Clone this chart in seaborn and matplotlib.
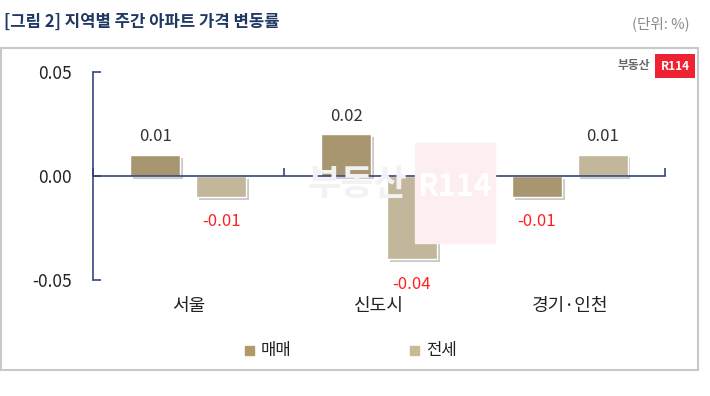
import pandas as pd
import matplotlib.pyplot as plt
import matplotlib.patheffects as pe
from matplotlib.patches import Rectangle
import seaborn as sns

regions = ["서울", "신도시", "경기·인천"]
sale = [0.01, 0.02, -0.01]
jeonse = [-0.01, -0.04, 0.01]
series_names = ["매매", "전세"]
yticks = [-0.05, 0.00, 0.05]

df = pd.DataFrame({
    "지역": regions * 2,
    "구분": [series_names[0]] * 3 + [series_names[1]] * 3,
    "변동률": sale + jeonse,
})

sns.set_theme(style="white")
plt.rcParams["font.family"] = ["Noto Sans CJK KR", "DejaVu Sans"]

navy = "#34467a"
colors = {"매매": "#b09a66", "전세": "#c9b994"}

fig = plt.figure(figsize=(7.1, 3.96), dpi=100)

# watermark (behind everything, very faint)
fig.text(357 / 710, 1 - 185 / 396, "부동산", ha="center", va="center", fontsize=26,
         color="#f2f2f2", fontweight="bold", zorder=0)
fig.patches.append(Rectangle((415 / 710, 1 - 243 / 396), 80 / 710, 100 / 396,
                             transform=fig.transFigure, color="#fdeff0", zorder=0))
fig.text(455 / 710, 1 - 187 / 396, "R114", ha="center", va="center", fontsize=22,
         color="#ffffff", fontweight="bold", zorder=0.5)

ax = fig.add_axes([93 / 710, 1 - 280 / 396, (665 - 93) / 710, 208 / 396])
ax.patch.set_alpha(0)

sns.barplot(data=df, x="지역", y="변동률", hue="구분", palette=colors,
            width=0.69, gap=0.24, ax=ax, legend=False)

for bar in ax.patches:
    bar.set_path_effects([pe.SimplePatchShadow(offset=(2, -2), shadow_rgbFace="#888888", alpha=0.45),
                          pe.Normal()])

for bar in ax.patches:
    h = bar.get_height()
    if bar.get_width() == 0:
        continue
    xc = bar.get_x() + bar.get_width() / 2
    if h >= 0:
        ax.annotate(f"{h:.2f}", (xc, h), xytext=(0, 7), textcoords="offset points",
                    ha="center", va="bottom", fontsize=12, color="#333333")
    else:
        ax.annotate(f"{h:.2f}", (xc, h), xytext=(0, -12), textcoords="offset points",
                    ha="center", va="top", fontsize=12, color="#ff2020")

ax.set_xlim(-0.5, 2.5)
ax.set_ylim(-0.05, 0.05)
ax.set_yticks(yticks)
ax.set_yticklabels([f"{v:.2f}" for v in yticks], fontsize=12.5, color="#222222")
ax.set_xticks([-0.5, 0.5, 1.5, 2.5])
ax.set_xticklabels([])
ax.set_xlabel("")
ax.set_ylabel("")

for s in ["top", "right"]:
    ax.spines[s].set_visible(False)
ax.spines["bottom"].set_position(("data", 0))
for s in ["left", "bottom"]:
    ax.spines[s].set_color(navy)
    ax.spines[s].set_linewidth(1.2)
ax.tick_params(axis="both", direction="in", length=6, width=1.2, color=navy)
ax.tick_params(axis="y", left=True, pad=15)
ax.tick_params(axis="x", bottom=True)

for i, name in enumerate(regions):
    ax.text(i, -0.0625, name, ha="center", va="center", fontsize=13, color="#222222")

# legend
for x0, name in [(245 / 710, series_names[0]), (410 / 710, series_names[1])]:
    fig.patches.append(Rectangle((x0, 1 - 355 / 396), 9 / 710, 9 / 396,
                                 transform=fig.transFigure, color=colors[name]))
    fig.text(x0 + 16 / 710, 1 - 350 / 396, name, ha="left", va="center",
             fontsize=12, color="#222222")

# title and frame
fig.text(0.006, 1 - 22 / 396, "[그림 2] 지역별 주간 아파트 가격 변동률", ha="left", va="center",
         fontsize=12, fontweight="bold", color="#1f3864")
fig.text(690 / 710, 1 - 24 / 396, "(단위: %)", ha="right", va="center", fontsize=10.5, color="#8a8a8a")
fig.patches.append(Rectangle((0.002, 1 - 370 / 396), 697 / 710, 322 / 396, transform=fig.transFigure,
                             fill=False, edgecolor="#c8c8c8", linewidth=1.5))

# logo
fig.text(618 / 710, 1 - 66 / 396, "부동산", ha="left", va="center", fontsize=8.5,
         color="#666666", fontweight="bold")
fig.text(675 / 710, 1 - 66 / 396, "R114", ha="center", va="center", fontsize=8.5, color="white",
         fontweight="bold", bbox=dict(boxstyle="square,pad=0.45", fc="#ee2233", ec="none"))

fig.savefig("out.png", dpi=100)
